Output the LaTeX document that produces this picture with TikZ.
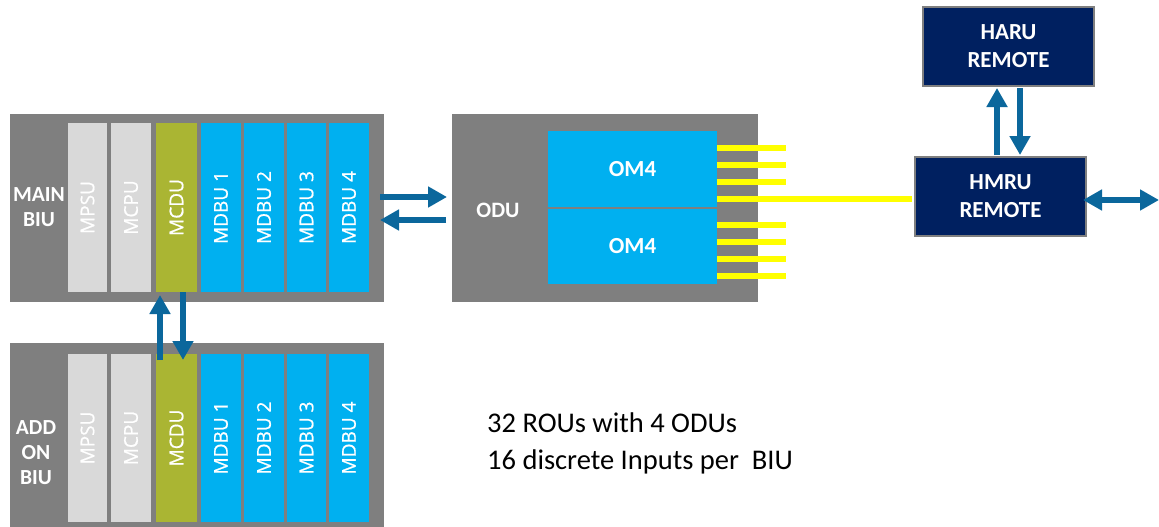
\documentclass[tikz,border=0pt]{standalone}
\usepackage{fontspec}
\setmainfont{Carlito}
\newfontfamily\osans{Open Sans}[FakeBold=0.8]
\usetikzlibrary{arrows.meta}
\definecolor{outergray}{HTML}{7F7F7F}
\definecolor{lgray}{HTML}{D9D9D9}
\definecolor{mcduolive}{HTML}{AAB533}
\definecolor{cyanbox}{HTML}{00B0F0}
\definecolor{navybox}{HTML}{002060}
\definecolor{arrowblue}{HTML}{0B679C}
\definecolor{fiber}{HTML}{FFFF00}
\begin{document}
\begin{tikzpicture}[x=1pt,y=-1pt,
  box/.style={rectangle, draw=none, inner sep=0pt, outer sep=0pt},
  outerbox/.style={box, fill=outergray},
  bar/.style={box, minimum height=169pt},
  barB/.style={box, minimum height=168pt},
  rot/.style={rotate=90, inner sep=0pt, text=white, font=\osans\fontsize{19}{22}\selectfont},
  lbl/.style={inner sep=0pt, text=white, align=center, font=\bfseries\fontsize{21.5}{25}\selectfont},
  remote/.style={box, fill=navybox, draw=outergray, line width=1.5pt, minimum width=171pt, minimum height=79pt, text=white, align=center, font=\bfseries\fontsize{23}{28}\selectfont},
  om/.style={box, fill=cyanbox, minimum width=169pt, text=white, font=\bfseries\fontsize{23}{28}\selectfont},
  flow/.style={draw=arrowblue, line width=6pt, -{Triangle[width=20pt,length=19pt]}},
  biflow/.style={draw=arrowblue, line width=6pt, {Triangle[width=20pt,length=19pt]}-{Triangle[width=20pt,length=19pt]}},
  fib/.style={draw=fiber, line width=6pt}
]
\clip (0,0) rectangle (1159,527);
\fill[white] (0,0) rectangle (1159,527);

% MAIN BIU
\node[outerbox, minimum width=374pt, minimum height=188pt] (mainbiu) at (197,208) {};
\node[lbl] (mainlbl) at (39,207) {MAIN\\BIU};
\foreach \n/\x/\w/\c/\t in {mpsu/87.5/39/lgray/MPSU, mcpu/131/40/lgray/MCPU, mcdu/176.5/41/mcduolive/MCDU, mdbua/221/40/cyanbox/MDBU 1, mdbub/264/40/cyanbox/MDBU 2, mdbuc/306.5/39/cyanbox/MDBU 3, mdbud/349/40/cyanbox/MDBU 4}{
  \node[bar, fill=\c, minimum width=\w pt] (\n A) at (\x,207.5) {};
  \node[rot] (\n Atxt) at (\n A) {\t};
}

% ADD ON BIU
\node[outerbox, minimum width=374pt, minimum height=200pt] (addbiu) at (197,443) {};
\node[lbl] (addlbl) at (36,453) {ADD\\ON\\BIU};
\foreach \n/\x/\w/\c/\t in {mpsu/87.5/39/lgray/MPSU, mcpu/131/40/lgray/MCPU, mcdu/176.5/41/mcduolive/MCDU, mdbua/221/40/cyanbox/MDBU 1, mdbub/264/40/cyanbox/MDBU 2, mdbuc/306.5/39/cyanbox/MDBU 3, mdbud/349/40/cyanbox/MDBU 4}{
  \node[barB, fill=\c, minimum width=\w pt] (\n B) at (\x,438) {};
  \node[rot] (\n Btxt) at (\n B) {\t};
}

% ODU
\node[outerbox, minimum width=306pt, minimum height=188pt] (odu) at (605,208) {};
\node[lbl, font=\bfseries\fontsize{22}{26}\selectfont] (odulbl) at (498,210) {ODU};
\node[om, minimum height=76pt] (om4a) at (632.5,169) {OM4};
\node[om, minimum height=75pt] (om4b) at (632.5,246.5) {OM4};

% Remotes
\node[remote] (haru) at (1008.5,46.5) {HARU\\REMOTE};
\node[remote] (hmru) at (1000.5,196.5) {HMRU\\REMOTE};
\coordinate (ext) at (1159,200);

% fibers
\foreach \s in {21,4,-13}{
  \draw[fib] ([yshift=\s pt]om4a.east) -- ++(69,0);
}
\draw[fib] ([yshift=-30pt]om4a.east) -- ([xshift=-3pt]hmru.west |- 0,199);
\foreach \s in {21.5,4.5,-12.5,-29.5}{
  \draw[fib] ([yshift=\s pt]om4b.east) -- ++(69,0);
}

% arrows BIU <-> ODU
\draw[flow] ([xshift=-4pt,yshift=11pt]mainbiu.east) -- ([xshift=-5pt,yshift=11pt]odu.west);
\draw[flow] ([xshift=-6pt,yshift=-12pt]odu.west) -- ([xshift=-4pt,yshift=-12pt]mainbiu.east);

% arrows MCDU
\draw[flow] ([xshift=-16.5pt,yshift=-6pt]mcduB.north) -- ([xshift=-16.5pt,yshift=-3pt]mcduA.south);
\draw[flow] ([xshift=6.5pt]mcduA.south) -- ([xshift=6.5pt,yshift=-6pt]mcduB.north);

% arrows HARU <-> HMRU
\draw[flow] ([xshift=-3.5pt,yshift=2pt]hmru.north) -- ([xshift=-11.5pt,yshift=-2pt]haru.south);
\draw[flow] ([xshift=11.5pt,yshift=-2pt]haru.south) -- ([xshift=19.5pt,yshift=2pt]hmru.north);

% external
\draw[biflow] ([xshift=-3pt,yshift=-3.5pt]hmru.east) -- (ext);

% note
\node[anchor=west, align=left, inner sep=0pt, font=\fontsize{28.5}{37}\selectfont] (note) at (487,443.5) {32 ROUs with 4 ODUs\\16 discrete Inputs per\ \ BIU};
\end{tikzpicture}
\end{document}
